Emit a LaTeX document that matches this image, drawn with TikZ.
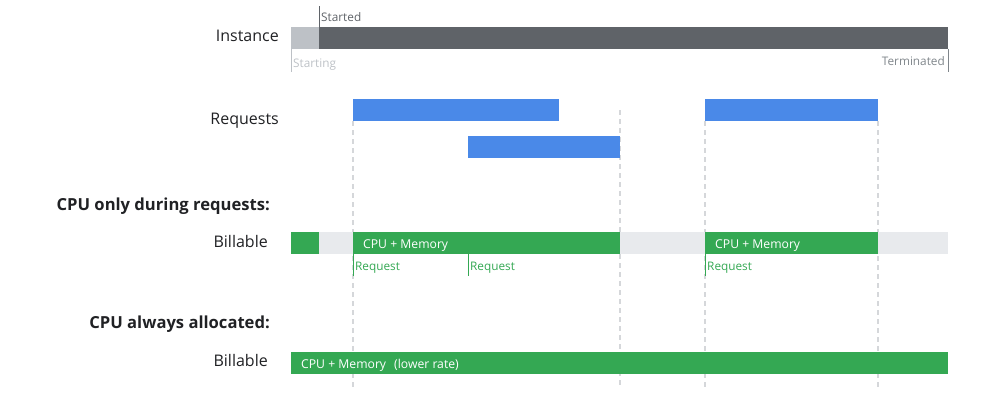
\documentclass[tikz,border=0pt]{standalone}
\usepackage{fontspec}
\setmainfont{Open Sans}
\definecolor{gGreen}{HTML}{34A853}
\definecolor{gBlue}{HTML}{4A89E8}
\definecolor{gDark}{HTML}{5F6368}
\definecolor{gLight}{HTML}{BDC1C6}
\definecolor{gPale}{HTML}{E8EAED}
\definecolor{gText}{HTML}{202124}
\definecolor{gDash}{HTML}{D5D7DA}
\definecolor{gTick}{HTML}{80868B}
\tikzset{
  bar/.style={rectangle, inner sep=0pt, outer sep=0pt, anchor=north west, minimum height=22pt},
  rowlabel/.style={anchor=base east, inner sep=0pt, text=gText, font=\fontsize{16}{18}\selectfont},
  headlabel/.style={anchor=base east, inner sep=0pt, text=gText, font=\fontsize{16.6}{19}\selectfont\bfseries},
  intext/.style={anchor=base west, inner sep=0pt, text=white, font=\fontsize{12.2}{14}\selectfont},
  reqtext/.style={anchor=base west, inner sep=0pt, text=gGreen, font=\fontsize{11.8}{14}\selectfont},
  ticktext/.style={inner sep=0pt, font=\fontsize{11.8}{14}\selectfont},
  guide/.style={draw=gDash, line width=1.2pt, dash pattern=on 5pt off 4pt},
  tickline/.style={line width=1pt},
}
\begin{document}
\begin{tikzpicture}[x=1pt,y=-1pt]
\useasboundingbox (0,0) rectangle (1003,402);
% guide lines
\coordinate (g1t) at (353,121); \coordinate (g1b) at (353,388);
\coordinate (g2t) at (620,110); \coordinate (g2b) at (620,388);
\coordinate (g3t) at (705,121); \coordinate (g3b) at (705,388);
\coordinate (g4t) at (878,121); \coordinate (g4b) at (878,388);
\draw[guide] (g1t) -- (g1b);
\draw[guide] (g2t) -- (g2b);
\draw[guide] (g3t) -- (g3b);
\draw[guide] (g4t) -- (g4b);
% Instance row
\node[rowlabel] (linst) at (279,41.7) {Instance};
\node[bar, fill=gLight, minimum width=28pt] (starting) at (291,27) {};
\node[bar, fill=gDark, minimum width=629pt] (started) at (319,27) {};
\coordinate (tStartedTop) at (319,6);
\coordinate (tStartingBot) at (291,72);
\coordinate (tTermBot) at (948,72);
\draw[tickline, draw=gDark] (started.north west) -- (tStartedTop);
\draw[tickline, draw=gLight] (starting.south west) -- (tStartingBot);
\draw[tickline, draw=gTick] (started.south east) -- (tTermBot);
\node[ticktext, anchor=base west, text=gDark] (lstarted) at (321,21) {Started};
\node[ticktext, anchor=base west, text=gLight] (lstarting) at (293,67) {Starting};
\node[ticktext, anchor=base east, text=gTick] (lterm) at (945,65) {Terminated};
% Requests row
\node[rowlabel] (lreq) at (279,124) {Requests};
\node[bar, fill=gBlue, minimum width=206pt] (r1) at (353,99) {};
\node[bar, fill=gBlue, minimum width=152pt] (r2) at (468,136) {};
\node[bar, fill=gBlue, minimum width=173pt] (r3) at (705,99) {};
% CPU only during requests
\node[headlabel] (h1) at (270,210) {CPU only during requests:};
\node[rowlabel] (lb1) at (268,247) {Billable};
\node[bar, fill=gGreen, minimum width=28pt] (b1a) at (291,232) {};
\node[bar, fill=gPale, minimum width=34pt] (b1b) at (319,232) {};
\node[bar, fill=gGreen, minimum width=267pt] (b1c) at (353,232) {};
\node[bar, fill=gPale, minimum width=85pt] (b1d) at (620,232) {};
\node[bar, fill=gGreen, minimum width=173pt] (b1e) at (705,232) {};
\node[bar, fill=gPale, minimum width=70pt] (b1f) at (878,232) {};
\node[intext] (m1) at (363,248) {CPU + Memory};
\node[intext] (m2) at (715,248) {CPU + Memory};
\coordinate (q1) at (353,276);
\coordinate (q2) at (468,276);
\coordinate (q3) at (705,276);
\coordinate (q2t) at (468,254);
\draw[tickline, draw=gGreen] (b1c.south west) -- (q1);
\draw[tickline, draw=gGreen] (q2t) -- (q2);
\draw[tickline, draw=gGreen] (b1e.south west) -- (q3);
\node[reqtext] (rq1) at (355,270) {Request};
\node[reqtext] (rq2) at (470,270) {Request};
\node[reqtext] (rq3) at (707,270) {Request};
% CPU always allocated
\node[headlabel] (h2) at (270,328) {CPU always allocated:};
\node[rowlabel] (lb2) at (268,366) {Billable};
\node[bar, fill=gGreen, minimum width=657pt] (b2) at (291,352) {};
\node[intext] (m3) at (301,368) {CPU + Memory\hspace{0.4em} (lower rate)};
\end{tikzpicture}
\end{document}
